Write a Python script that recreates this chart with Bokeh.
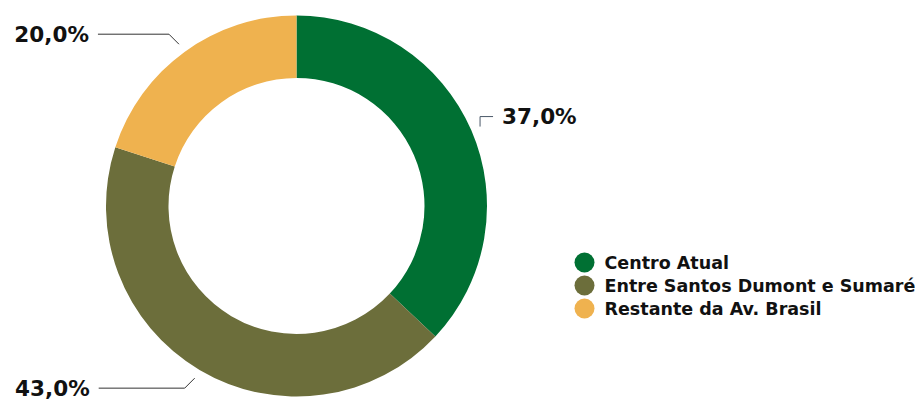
import numpy as np
from bokeh.plotting import figure
from bokeh.models import Range1d, ColumnDataSource
from bokeh.core.properties import value
from bokeh.embed import file_html
from bokeh.resources import INLINE

categories = ["Centro Atual", "Entre Santos Dumont e Sumaré", "Restante da Av. Brasil"]
shares = [37.0, 43.0, 20.0]
labels = ["37,0%", "43,0%", "20,0%"]
colors = ["#007033", "#6c6e3b", "#efb24f"]

W, H = 915, 401
p = figure(width=W, height=H, output_backend="svg", toolbar_location=None,
           x_range=Range1d(0, W), y_range=Range1d(0, H), min_border=0)
p.axis.visible = False
p.grid.visible = False
p.outline_line_color = None
p.background_fill_color = "white"
p.border_fill_color = "white"

cx, cy = 296, 195.5
r_out, r_in = 190.5, 128

frac = np.array(shares) / sum(shares)
cum_end = np.cumsum(frac)
cum_start = cum_end - frac
start = np.pi / 2 - 2 * np.pi * cum_end
end = np.pi / 2 - 2 * np.pi * cum_start

src = ColumnDataSource(dict(start=start, end=end, color=colors))
p.annular_wedge(x=cx, y=cy, inner_radius=r_in, outer_radius=r_out,
                start_angle="start", end_angle="end", color="color",
                line_color=None, source=src)

FONT = value("DejaVu Sans")

# leader lines and labels
mid = 2 * np.pi * (cum_start + frac / 2)  # clockwise from top
for i, m in enumerate(mid):
    x0 = cx + 200 * np.sin(m)
    y0 = cy + 200 * np.cos(m)
    if np.sin(m) > 0:
        xs = [x0, x0, x0 + 13]
        ys = [y0, y0 + 10, y0 + 10]
        p.line(xs, ys, line_color="#4a5868", line_width=1)
        p.text(x=[xs[-1] + 9], y=[ys[-1]], text=[labels[i]],
               text_font=FONT, text_font_style="bold",
               text_font_size="21.5px", text_color="#111111",
               text_align="left", text_baseline="middle")
    else:
        dy = 10 if np.cos(m) > 0 else -10
        length = 71 if np.cos(m) > 0 else 86
        xs = [x0, x0 - 10, x0 - 10 - length]
        ys = [y0, y0 + dy, y0 + dy]
        p.line(xs, ys, line_color="#333333", line_width=1)
        p.text(x=[xs[-1] - 9], y=[ys[-1]], text=[labels[i]],
               text_font=FONT, text_font_style="bold",
               text_font_size="21.5px", text_color="#111111",
               text_align="right", text_baseline="middle")

# legend
lx, ly0, ldy = 584, 139, -23
ly = [ly0 + k * ldy for k in range(len(categories))]
p.scatter(x=[lx] * len(categories), y=ly, size=20, color=colors, line_color=None)
p.text(x=[lx + 20] * len(categories), y=ly, text=categories,
       text_font=FONT, text_font_style="bold",
       text_font_size="17.5px", text_color="#111111",
       text_align="left", text_baseline="middle")

open("out.html", "w").write(file_html(p, INLINE))
